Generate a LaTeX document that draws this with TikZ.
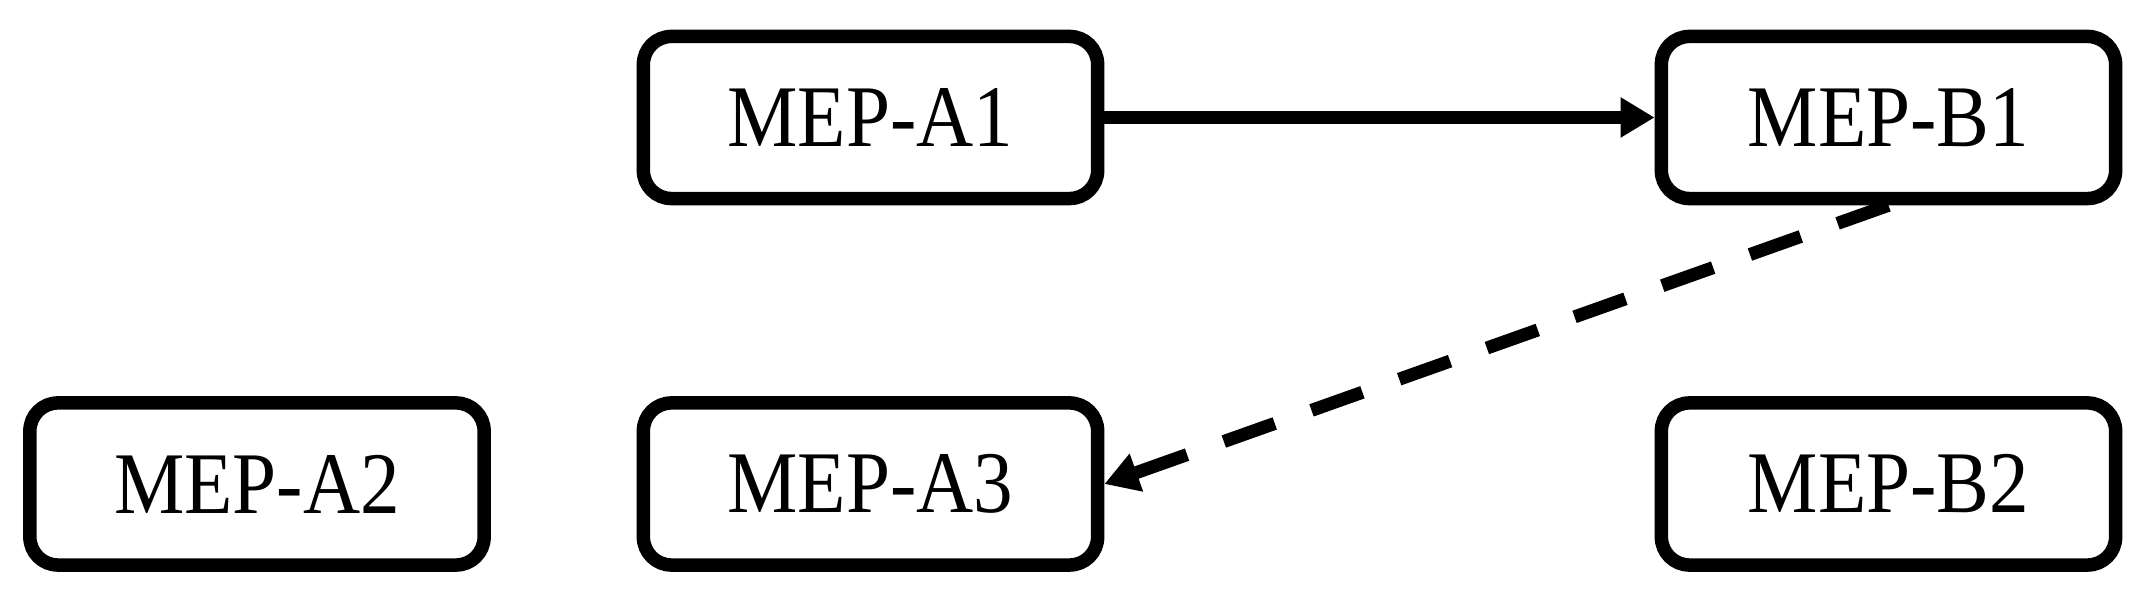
\documentclass[tikz,border=0pt]{standalone}
\usepackage{fontspec}
\setmainfont{Liberation Serif}
\usetikzlibrary{arrows.meta}
\begin{document}
\begin{tikzpicture}[x=0.01cm,y=-0.01cm,
  mepbox/.style={draw, line width=0.135cm, rounded corners=0.28cm, minimum width=4.54cm, minimum height=1.62cm, inner sep=0pt, font=\fontsize{25}{30}\selectfont},
  conn/.style={line width=0.125cm, -{Triangle[length=0.34cm,width=0.38cm]}}]
\useasboundingbox (0,0) rectangle (2138,598);
\node[mepbox] (a1) at (870.5,117.5) {\scalebox{0.9}[1]{MEP-A1}};
\node[mepbox] (b1) at (1888.5,117.5) {\scalebox{0.9}[1]{MEP-B1}};
\node[mepbox] (a2) at (257,484) {\scalebox{0.9}[1]{MEP-A2}};
\node[mepbox] (a3) at (870.5,484) {\scalebox{0.9}[1]{MEP-A3}};
\node[mepbox] (b2) at (1888.5,484) {\scalebox{0.9}[1]{MEP-B2}};
\draw[conn] (a1.east) -- (b1.west);
\draw[conn, line width=0.13cm, dash pattern=on 0.54cm off 0.39cm] (b1.south) -- (a3.east);
\end{tikzpicture}
\end{document}
